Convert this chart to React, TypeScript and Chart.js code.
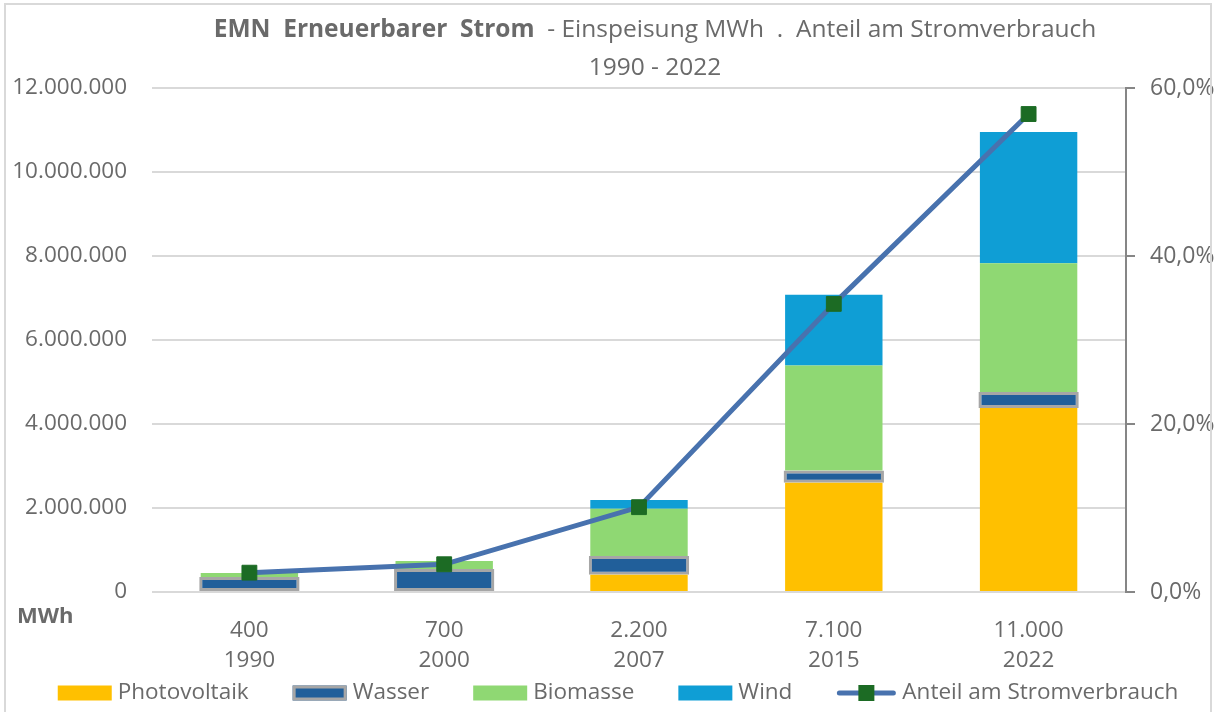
import React, { useEffect, useRef } from 'react';
import { Chart, registerables } from 'chart.js';

Chart.register(...registerables);

// ---- data ----
const years = ['1990', '2000', '2007', '2015', '2022'];
const totalLabels = ['400', '700', '2.200', '7.100', '11.000'];
const photovoltaik = [0, 0, 410000, 2600000, 4380000];
const wasser = [360000, 550000, 450000, 290000, 380000];
const biomasse = [90000, 190000, 1120000, 2500000, 3070000];
const wind = [0, 0, 210000, 1690000, 3120000];
const anteil = [2.3, 3.3, 10.1, 34.3, 56.9];

const titleBold = 'EMN  Erneuerbarer  Strom';
const titleRest = '  - Einspeisung MWh  .  Anteil am Stromverbrauch';
const titleLine2 = '1990 - 2022';
const unitLabel = 'MWh';

const FONT = "'Open Sans', 'Liberation Sans', sans-serif";
const TEXT = '#6a6a6a';

const C_PV = '#FFC000';
const C_WASSER = '#215F9A';
const C_WASSER_BORDER = '#A6A6A6';
const C_BIO = '#8FD873';
const C_WIND = '#0F9ED5';
const C_LINE = '#4872AE';
const C_MARK = '#1C6B24';

const fmtDots = (v: number) =>
  String(Math.round(v)).replace(/\B(?=(\d{3})+(?!\d))/g, '.');
const fmtPct = (v: number) => v.toFixed(1).replace('.', ',') + '%';

function drawBox(ctx: CanvasRenderingContext2D, x: number, y: number, fill: string, border?: string) {
  ctx.fillStyle = fill;
  ctx.fillRect(x, y - 7.5, 54, 15);
  if (border) {
    ctx.strokeStyle = border;
    ctx.lineWidth = 3;
    ctx.strokeRect(x + 1.5, y - 6, 51, 12);
  }
}

function drawLineSym(ctx: CanvasRenderingContext2D, x: number, y: number) {
  ctx.strokeStyle = C_LINE;
  ctx.lineWidth = 5;
  ctx.lineCap = 'round';
  ctx.beginPath();
  ctx.moveTo(x + 3, y);
  ctx.lineTo(x + 57, y);
  ctx.stroke();
  ctx.fillStyle = C_MARK;
  ctx.fillRect(x + 22, y - 8, 16, 16);
}

const decorPlugin = {
  id: 'decor',
  afterDraw(chart: any) {
    const ctx = chart.ctx as CanvasRenderingContext2D;
    ctx.save();
    // frame
    ctx.strokeStyle = '#D9D9D9';
    ctx.lineWidth = 2;
    ctx.beginPath();
    ctx.moveTo(5, 712);
    ctx.lineTo(5, 4);
    ctx.lineTo(1211, 4);
    ctx.lineTo(1211, 712);
    ctx.stroke();
    // title
    const cx = (chart.chartArea.left + chart.chartArea.right) / 2 + 16;
    ctx.fillStyle = TEXT;
    ctx.textBaseline = 'middle';
    const fb = `bold 24.5px ${FONT}`;
    const fn = `24.5px ${FONT}`;
    ctx.font = fb;
    const wb = ctx.measureText(titleBold).width;
    ctx.font = fn;
    const wn = ctx.measureText(titleRest).width;
    const x0 = cx - (wb + wn) / 2;
    ctx.textAlign = 'left';
    ctx.font = fb;
    ctx.fillText(titleBold, x0, 30);
    ctx.font = fn;
    ctx.fillText(titleRest, x0 + wb, 30);
    ctx.textAlign = 'center';
    ctx.fillText(titleLine2, cx, 68);
    // unit
    ctx.textAlign = 'left';
    ctx.fillStyle = TEXT;
    ctx.font = `bold 22px ${FONT}`;
    ctx.fillText(unitLabel, 17, 617);

    // legend
    const items = chart.data.datasets.map((ds: any, i: number) => ({ text: ds.label, i }));
    ctx.font = `22.5px ${FONT}`;
    const symW = [54, 54, 54, 54, 60];
    const gapText = 6;
    const gapItem = 44;
    let total = 0;
    const widths = items.map((it: any, k: number) => {
      const w = symW[k] + gapText + ctx.measureText(it.text).width;
      total += w;
      return w;
    });
    total += gapItem * (items.length - 1);
    let lx = 618 - total / 2;
    const ly = 693;
    items.forEach((it: any, k: number) => {
      const ds = chart.data.datasets[it.i];
      if (k < 4) {
        drawBox(ctx, lx, ly, ds.backgroundColor, k === 1 ? C_WASSER_BORDER : undefined);
      } else {
        drawLineSym(ctx, lx, ly);
      }
      ctx.fillStyle = TEXT;
      ctx.textAlign = 'left';
      ctx.textBaseline = 'middle';
      ctx.fillText(it.text, lx + symW[k] + gapText, ly);
      lx += widths[k] + gapItem;
    });
    ctx.restore();
  },
};

export default function App() {
  const ref = useRef<HTMLCanvasElement | null>(null);

  useEffect(() => {
    document.body.style.margin = '0';
    const canvas = ref.current!;
    const chart = new Chart(canvas, {
      type: 'bar',
      data: {
        labels: years.map((y, i) => [totalLabels[i], y]),
        datasets: [
          {
            type: 'bar',
            label: 'Photovoltaik',
            data: photovoltaik,
            backgroundColor: C_PV,
            yAxisID: 'y',
            order: 1,
            barPercentage: 0.5,
            categoryPercentage: 1,
          },
          {
            type: 'bar',
            label: 'Wasser',
            data: wasser,
            backgroundColor: C_WASSER,
            borderColor: C_WASSER_BORDER,
            borderWidth: 3,
            borderSkipped: false,
            yAxisID: 'y',
            order: 1,
            barPercentage: 0.515,
            categoryPercentage: 1,
          },
          {
            type: 'bar',
            label: 'Biomasse',
            data: biomasse,
            backgroundColor: C_BIO,
            yAxisID: 'y',
            order: 1,
            barPercentage: 0.5,
            categoryPercentage: 1,
          },
          {
            type: 'bar',
            label: 'Wind',
            data: wind,
            backgroundColor: C_WIND,
            yAxisID: 'y',
            order: 1,
            barPercentage: 0.5,
            categoryPercentage: 1,
          },
          {
            type: 'line',
            label: 'Anteil am Stromverbrauch',
            data: anteil,
            borderColor: C_LINE,
            backgroundColor: C_MARK,
            borderWidth: 5,
            pointStyle: 'rect',
            pointRadius: 10.5,
            pointBackgroundColor: C_MARK,
            pointBorderColor: C_MARK,
            pointBorderWidth: 1,
            yAxisID: 'y1',
            order: 0,
            tension: 0,
          } as any,
        ],
      },
      options: {
        responsive: false,
        animation: false,
        layout: { padding: { top: 88, left: 0, right: 0, bottom: 38 } },
        plugins: {
          title: { display: false },
          tooltip: { enabled: false },
          legend: { display: false },
        },
        scales: {
          x: {
            stacked: true,
            grid: { display: false, drawTicks: false },
            border: { display: false },
            ticks: {
              color: TEXT,
              padding: 23,
              font: { family: FONT, size: 22.5, lineHeight: 1.36 },
            },
            afterFit: (s: any) => {
              s.height = 82;
            },
          },
          y: {
            stacked: true,
            position: 'left',
            min: 0,
            max: 12000000,
            grid: { color: '#D9D9D9', lineWidth: 2, drawTicks: false },
            border: { display: false },
            ticks: {
              stepSize: 2000000,
              color: TEXT,
              padding: 25,
              font: { family: FONT, size: 22.5 },
              callback: (v: any) => fmtDots(Number(v)),
            },
            afterFit: (s: any) => {
              s.width = 152;
            },
          },
          y1: {
            position: 'right',
            min: 0,
            max: 60,
            grid: {
              drawOnChartArea: false,
              drawTicks: true,
              tickLength: 9,
              color: '#868686',
              lineWidth: 2,
            },
            border: { display: true, color: '#868686', width: 2 },
            ticks: {
              stepSize: 20,
              color: TEXT,
              padding: 15,
              font: { family: FONT, size: 23 },
              callback: (v: any) => fmtPct(Number(v)),
            },
            afterFit: (s: any) => {
              s.width = 88;
            },
          },
        },
      } as any,
      plugins: [decorPlugin],
    });
    return () => chart.destroy();
  }, []);

  return (
    <div style={{ width: 1214, height: 712, background: '#fff' }}>
      <canvas ref={ref} width={1214} height={712} style={{ display: 'block' }} />
    </div>
  );
}
